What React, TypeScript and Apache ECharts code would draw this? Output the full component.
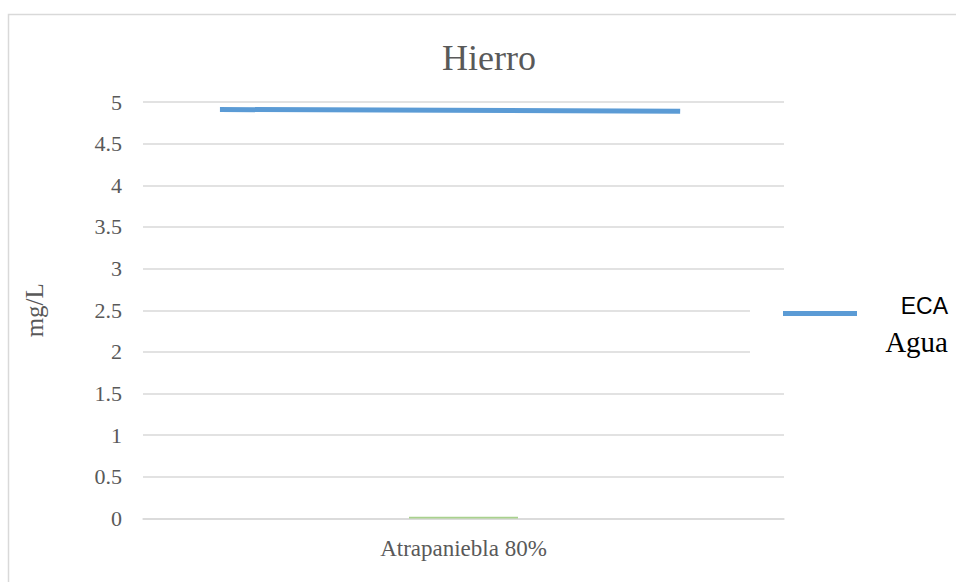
import React, { useEffect, useRef } from "react";
import * as echarts from "echarts";

const categories = ["Atrapaniebla 80%"];
const barValues = [0.02];
const ecaLineX = [0.12, 0.838];
const ecaLineY = [4.91, 4.89];
const yTicks = { min: 0, max: 5, interval: 0.5 };
const titleText = "Hierro";
const yName = "mg/L";
const legendLines = ["ECA", "Agua"];

const GRAY = "#595959";
const GRID = "#d9d9d9";
const BLUE = "#5b9bd5";
const GREEN = "#a9d18e";
const SERIF = "'Liberation Serif', 'Times New Roman', serif";
const SANS = "'Liberation Sans', Arial, sans-serif";

export default function App() {
  const ref = useRef<HTMLDivElement>(null);
  useEffect(() => {
    if (!ref.current) return;
    const chart = echarts.init(ref.current, undefined, { renderer: "svg" });
    chart.setOption({
      animation: false,
      backgroundColor: "#ffffff",
      title: {
        text: titleText,
        left: 484,
        top: 35,
        textAlign: "center",
        textStyle: { fontFamily: SERIF, fontSize: 36, fontWeight: "normal", color: GRAY },
      },
      grid: { left: 143, right: 172, top: 102, bottom: 63.5, containLabel: false },
      xAxis: [
        {
          type: "category",
          data: categories,
          axisLine: { lineStyle: { color: GRID, width: 1.5 } },
          axisTick: { show: false },
          axisLabel: { color: GRAY, fontFamily: SERIF, fontSize: 23, margin: 18 },
        },
        { type: "value", min: 0, max: 1, show: false },
      ],
      yAxis: {
        type: "value",
        min: yTicks.min,
        max: yTicks.max,
        interval: yTicks.interval,
        name: yName,
        nameLocation: "middle",
        nameRotate: 90,
        nameGap: 96,
        nameTextStyle: { color: GRAY, fontFamily: SERIF, fontSize: 25 },
        axisLine: { show: false },
        axisTick: { show: false },
        axisLabel: { color: GRAY, fontFamily: SERIF, fontSize: 22, margin: 21 },
        splitLine: { lineStyle: { color: GRID, width: 1.5 } },
      },
      legend: { show: false },
      series: [
        {
          name: "Atrapaniebla",
          type: "bar",
          xAxisIndex: 0,
          data: barValues,
          barWidth: "17%",
          itemStyle: { color: GREEN },
        },
        {
          name: "ECA Agua",
          type: "line",
          xAxisIndex: 1,
          data: ecaLineX.map((x, i) => [x, ecaLineY[i]]),
          symbol: "none",
          lineStyle: { color: BLUE, width: 5 },
          z: 3,
        },
      ],
      graphic: [
        {
          type: "rect",
          shape: { x: 8.5, y: 14.5, width: 2000, height: 2000 },
          style: { fill: "none", stroke: GRID, lineWidth: 1.5 },
          silent: true,
        },
        {
          type: "rect",
          shape: { x: 750, y: 290, width: 206, height: 75 },
          style: { fill: "#ffffff" },
          z: 10,
        },
        {
          type: "line",
          shape: { x1: 783, y1: 313.5, x2: 857, y2: 313.5 },
          style: { stroke: BLUE, lineWidth: 5 },
          z: 11,
        },
        {
          type: "text",
          x: 948,
          y: 306,
          style: {
            text: legendLines[0],
            fontFamily: SANS,
            fontSize: 23,
            fill: "#000000",
            align: "right",
            verticalAlign: "middle",
          },
          z: 11,
        },
        {
          type: "text",
          x: 948,
          y: 342,
          style: {
            text: legendLines[1],
            fontFamily: SERIF,
            fontSize: 29,
            fill: "#000000",
            align: "right",
            verticalAlign: "middle",
          },
          z: 11,
        },
      ],
    });
    return () => chart.dispose();
  }, []);
  return (
    <div
      ref={ref}
      style={{ position: "fixed", left: 0, top: 0, width: 956, height: 582 }}
    />
  );
}
